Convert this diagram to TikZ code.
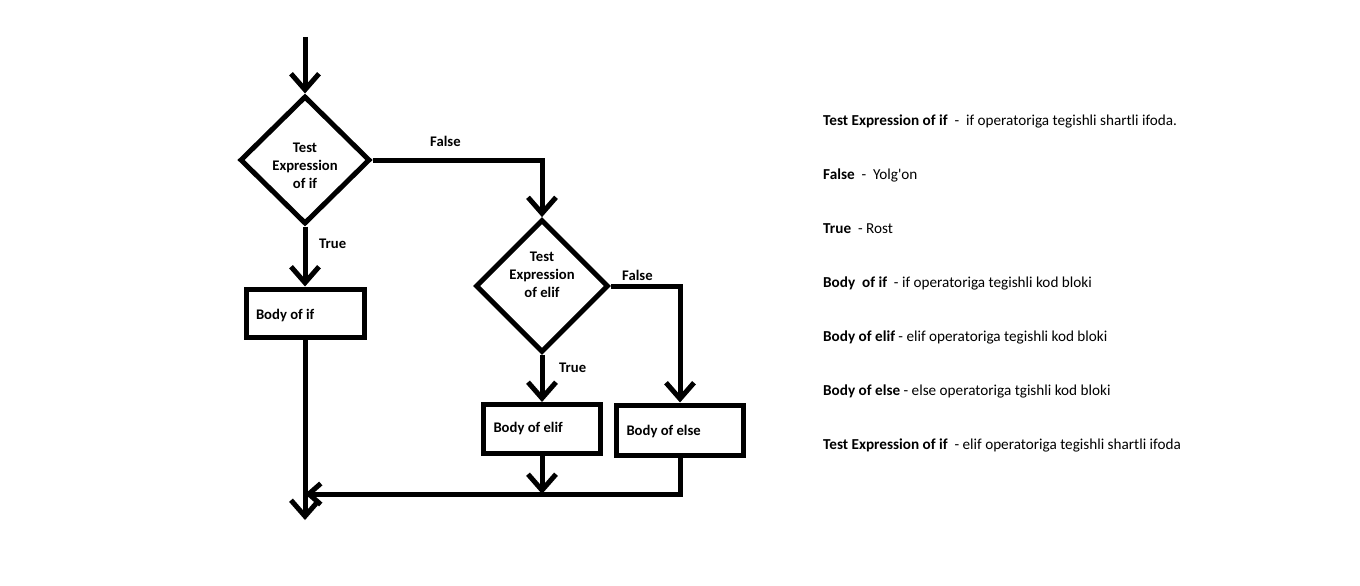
\documentclass[tikz,border=0pt]{standalone}
\usepackage{fontspec}
\setmainfont{Carlito}
\usetikzlibrary{shapes.geometric,arrows.meta}

\newcommand{\diagfont}{\fontsize{14.67}{18}\selectfont}
\newcommand{\notefont}{\fontsize{15.2}{18}\selectfont}

\tikzset{
  flow/.style={line width=5pt},
  arr/.style={flow, -{Straight Barb[length=16pt,width=28pt,line width=5pt]}},
  smallarr/.style={flow, -{Straight Barb[length=12pt,width=21pt,line width=5pt]}},
  decision/.style={diamond, draw, line width=5pt, inner sep=0pt, align=center,
    minimum width=130pt, minimum height=128pt, font=\diagfont\bfseries},
  block/.style={rectangle, draw, line width=5pt, inner xsep=10pt, align=flush left,
    font=\diagfont\bfseries},
  lbl/.style={anchor=base west, inner sep=0pt, font=\diagfont\bfseries},
  note/.style={anchor=base west, inner sep=0pt, font=\notefont}
}

\begin{document}
\begin{tikzpicture}[x=1pt, y=-1pt]
  \useasboundingbox (0,0) rectangle (1360,586);

  % Nodes
  \coordinate (start) at (305,37);
  \node[decision] (testif) at (305,160) {\rule{0pt}{22pt}Test\\Expression\\of if};
  \node[decision] (testelif) at (542,286) {Test\\Expression\\of elif\rule[-22pt]{0pt}{1pt}};
  \node[block, minimum width=118pt, minimum height=48pt, text width=98pt] (bodyif) at (305,313) {\rule{0pt}{16pt}Body of if};
  \node[block, minimum width=117pt, minimum height=49pt, text width=97pt] (bodyelif) at (542,429) {Body of elif};
  \node[block, minimum width=127pt, minimum height=50pt, text width=107pt] (bodyelse) at (680,430) {\rule{0pt}{14pt}Body of else};
  \coordinate (join) at (305,494);
  \coordinate (joinelif) at (542,494);
  \coordinate (stop) at (305,520);

  % Labels
  \node[lbl] (falseif) at (430,146) {False};
  \node[lbl] (trueif) at (319,248) {True};
  \node[lbl] (falseelif) at (622,280) {False};
  \node[lbl] (trueelif) at (559,372) {True};

  % Edges
  \draw[arr] (start) -- (testif.north);
  \draw[arr] (testif.east) -| (testelif.north);
  \draw[arr] (testif.south) -- (bodyif.north);
  \draw[arr] (testelif.south) -- (bodyelif.north);
  \draw[arr] (testelif.east) -| (bodyelse.north);
  \draw[arr] (bodyif.south) -- (stop);
  \draw[smallarr] (bodyelse.south) |- (join);
  \draw[arr] (bodyelif.south) -- (joinelif);

  % Legend
  \node[note] (n1) at (823,125) {\textbf{Test Expression of if}\ \ -\ \ if operatoriga tegishli shartli ifoda.};
  \node[note] (n2) at (823,179) {\textbf{False}\ \ -\ \ Yolg\textquotesingle on};
  \node[note] (n3) at (823,233) {\textbf{True}\ \ - Rost};
  \node[note] (n4) at (823,287) {\textbf{Body\ \ of if}\ \ - if operatoriga tegishli kod bloki};
  \node[note] (n5) at (823,341) {\textbf{Body of elif} - elif operatoriga tegishli kod bloki};
  \node[note] (n6) at (823,395) {\textbf{Body of else} - else operatoriga tgishli kod bloki};
  \node[note] (n7) at (823,449) {\textbf{Test Expression of if}\ \ - elif operatoriga tegishli shartli ifoda};
\end{tikzpicture}
\end{document}
